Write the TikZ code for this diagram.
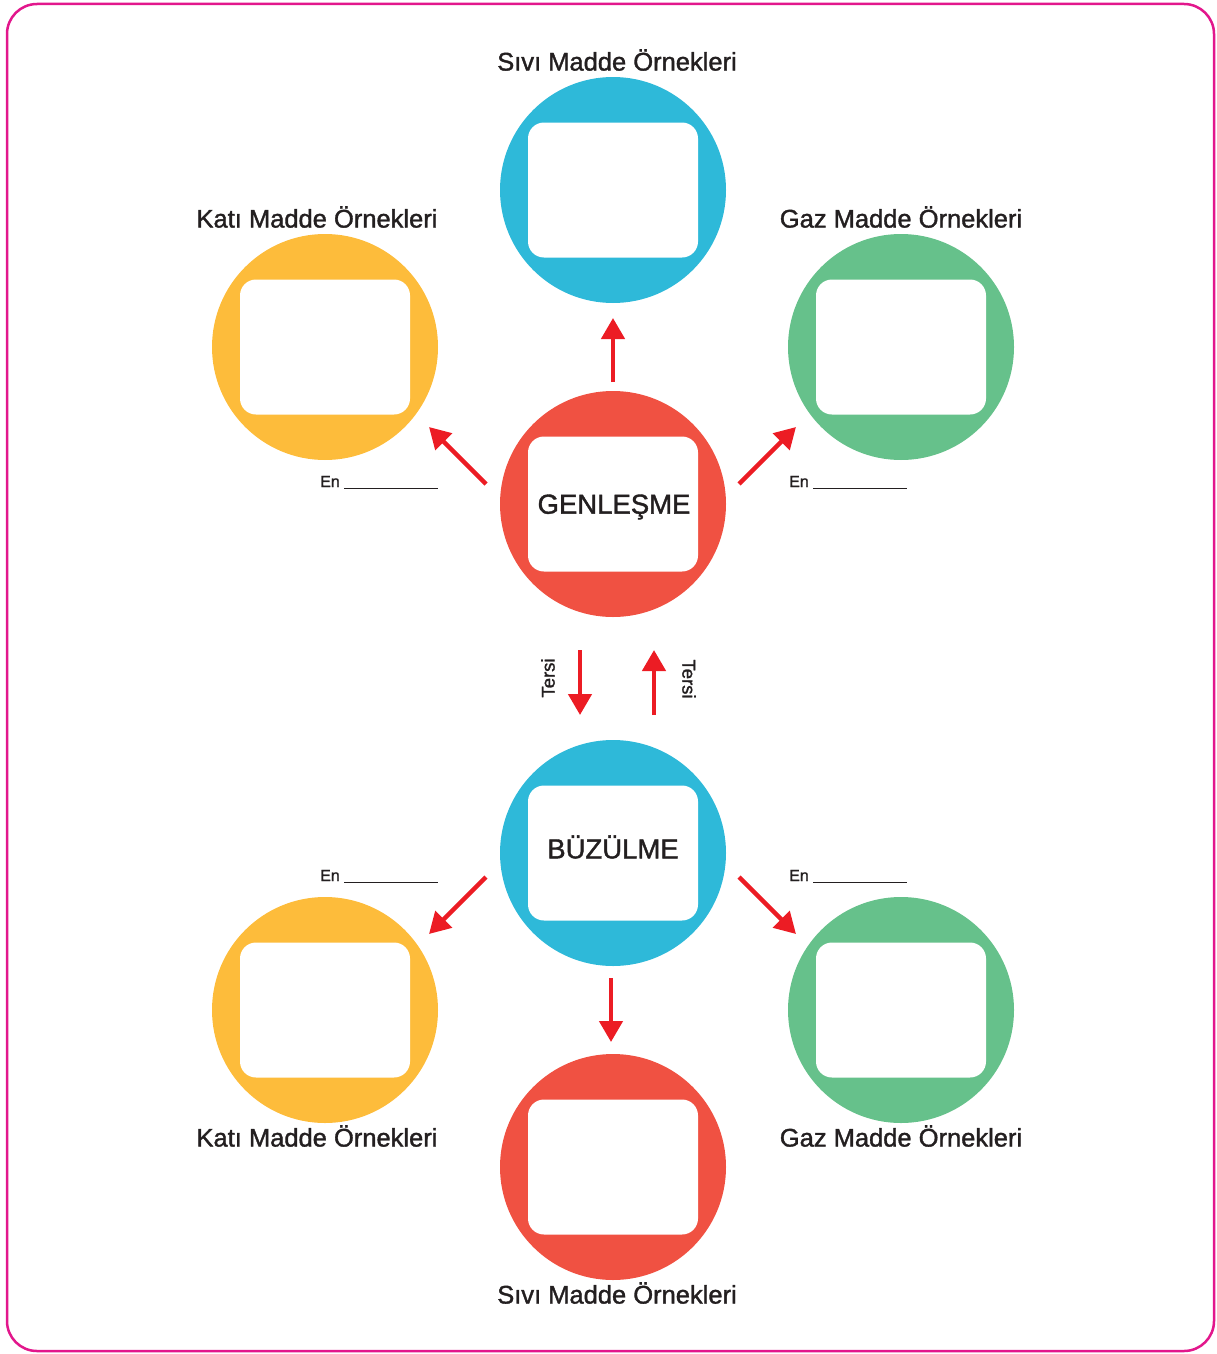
\documentclass[tikz,border=0pt]{standalone}
\usepackage{fontspec}
\setmainfont{Liberation Sans}[UprightFeatures={FakeBold=1.4}]
\usepackage{tikz}
\usetikzlibrary{arrows.meta,positioning}
\definecolor{frameC}{HTML}{E2178C}
\definecolor{sivC}{HTML}{2EB9D9}
\definecolor{katC}{HTML}{FDBC3B}
\definecolor{gazC}{HTML}{66C18B}
\definecolor{genC}{HTML}{F05142}
\definecolor{arrC}{HTML}{EC1C24}
\definecolor{txtC}{HTML}{231F20}

\begin{document}
\begin{tikzpicture}[x=1pt, y=-1pt,
        bubble/.style={circle, minimum size=226pt, inner sep=0pt},
        card/.style={draw=none, fill=white, rounded corners=16pt, minimum width=170pt, minimum height=135pt, inner sep=0pt},
        cardtxt/.style={font=\fontsize{27.5}{30}\selectfont, text=txtC},
        lbl/.style={font=\fontsize{25.5}{28}\selectfont, text=txtC},
        enlbl/.style={font=\fontsize{16}{18}\selectfont, text=txtC, anchor=base west, inner sep=0pt},
        arrow/.style={-{Triangle[width=23pt, length=21pt]}, line width=4.5pt, arrC},
        tersi/.style={font=\fontsize{18.5}{20}\selectfont, text=txtC}
    ]
    \useasboundingbox (0,0) rectangle (1217,1354);
    \draw[frameC, line width=2.5pt, rounded corners=30pt] (7,4) rectangle (1214,1351);
    % Ust daireler
    \node[bubble, fill=genC] (gen) at (613,504) {};
    \node[card] (genbox) at (gen) {};
    \node[cardtxt] at (614,507) {GENLEŞME};
    \node[bubble, fill=sivC] (siviA) at (613,190) {};
    \node[card] at (siviA) {};
    \node[bubble, fill=katC] (katiA) at (325,347) {};
    \node[card] at (katiA) {};
    \node[bubble, fill=gazC] (gazA) at (901,347) {};
    \node[card] at (gazA) {};
    % Alt daireler
    \node[bubble, fill=sivC] (buz) at (613,853) {};
    \node[card] (buzbox) at (buz) {};
    \node[cardtxt] at (613,847) {BÜZÜLME};
    \node[bubble, fill=genC] (siviB) at (613,1167) {};
    \node[card] at (siviB) {};
    \node[bubble, fill=katC] (katiB) at (325,1010) {};
    \node[card] at (katiB) {};
    \node[bubble, fill=gazC] (gazB) at (901,1010) {};
    \node[card] at (gazB) {};
    % Basliklar
    \node[lbl] at (617,60) {Sıvı Madde Örnekleri};
    \node[lbl] at (317,217) {Katı Madde Örnekleri};
    \node[lbl] at (901,217) {Gaz Madde Örnekleri};
    \node[lbl] at (317,1136) {Katı Madde Örnekleri};
    \node[lbl] at (901,1136) {Gaz Madde Örnekleri};
    \node[lbl] at (617,1293) {Sıvı Madde Örnekleri};
    % En ...
    \node[enlbl] at (320,487) {En \raisebox{-1.5pt}{\rule{94pt}{0.8pt}}};
    \node[enlbl] at (789,487) {En \raisebox{-1.5pt}{\rule{94pt}{0.8pt}}};
    \node[enlbl] at (320,881) {En \raisebox{-1.5pt}{\rule{94pt}{0.8pt}}};
    \node[enlbl] at (789,881) {En \raisebox{-1.5pt}{\rule{94pt}{0.8pt}}};
    % Ok uclari
    \coordinate (gS) at (613,382); \coordinate (gSe) at (613,318);
    \coordinate (gK) at (486,484); \coordinate (gKe) at (429,427);
    \coordinate (gG) at (739,484); \coordinate (gGe) at (796,427);
    \coordinate (tA) at (580,650); \coordinate (tAe) at (580,715);
    \coordinate (tB) at (654,715); \coordinate (tBe) at (654,650);
    \coordinate (bK) at (486,877); \coordinate (bKe) at (429,934);
    \coordinate (bG) at (739,877); \coordinate (bGe) at (796,934);
    \coordinate (bS) at (611,978); \coordinate (bSe) at (611,1042);
    % Setas
    \draw[arrow] (gS) -- (gSe);
    \draw[arrow] (gK) -- (gKe);
    \draw[arrow] (gG) -- (gGe);
    \draw[arrow] (tA) -- (tAe);
    \draw[arrow] (tB) -- (tBe);
    \draw[arrow] (bK) -- (bKe);
    \draw[arrow] (bG) -- (bGe);
    \draw[arrow] (bS) -- (bSe);
    % Tersi
    \node[tersi, rotate=90] at (548,678) {Tersi};
    \node[tersi, rotate=-90] at (689,679) {Tersi};
\end{tikzpicture}
\end{document}
